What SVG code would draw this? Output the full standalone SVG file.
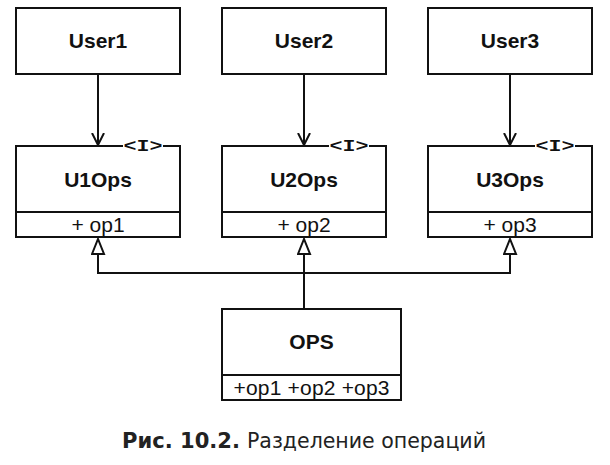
<svg xmlns="http://www.w3.org/2000/svg" width="610" height="465" viewBox="0 0 610 465">
<style>
.box{fill:#fff;stroke:#111;stroke-width:2}
.ln{fill:none;stroke:#111;stroke-width:2}
.name{font-family:"Liberation Sans",Arial,sans-serif;font-weight:bold;font-size:21px;fill:#111;text-anchor:middle}
.op{font-family:"Liberation Sans",Arial,sans-serif;font-size:21px;fill:#111;text-anchor:middle}
.st{font-family:"Liberation Mono","Courier New",monospace;font-weight:bold;font-size:16px;fill:#111;text-anchor:middle}
.cap{font-family:"DejaVu Sans",Tahoma,sans-serif;font-size:21.5px;fill:#222}
</style>
<defs>
<marker id="open" markerWidth="14" markerHeight="14" refX="12" refY="7" orient="auto" markerUnits="userSpaceOnUse">
<path d="M0,1 L12,7 L0,13" fill="none" stroke="#111" stroke-width="2"/>
</marker>
<marker id="tri" markerWidth="18" markerHeight="16" refX="16" refY="7" orient="auto" markerUnits="userSpaceOnUse">
<path d="M1,1 L16,7 L1,13 Z" fill="#fff" stroke="#111" stroke-width="2"/>
</marker>
</defs>

<g id="connectors">
<line class="ln" x1="98" y1="74" x2="98" y2="145" marker-end="url(#open)"/>
<line class="ln" x1="304" y1="74" x2="304" y2="145" marker-end="url(#open)"/>
<line class="ln" x1="510" y1="74" x2="510" y2="145" marker-end="url(#open)"/>
<path class="ln" d="M304,309 L304,273"/>
<path class="ln" d="M98,273 L510,273"/>
<line class="ln" x1="98" y1="274" x2="98" y2="239" marker-end="url(#tri)"/>
<line class="ln" x1="304" y1="274" x2="304" y2="239" marker-end="url(#tri)"/>
<line class="ln" x1="510" y1="274" x2="510" y2="239" marker-end="url(#tri)"/>
</g>

<g id="User1">
<rect class="box" x="16" y="8" width="164" height="66"/>
<text class="name" x="98" y="48">User1</text>
</g>
<g id="User2">
<rect class="box" x="222" y="8" width="164" height="66"/>
<text class="name" x="304" y="48">User2</text>
</g>
<g id="User3">
<rect class="box" x="428" y="8" width="164" height="66"/>
<text class="name" x="510" y="48">User3</text>
</g>

<g id="U1Ops">
<rect x="16" y="146" width="164" height="91" fill="#fff"/>
<path class="ln" d="M123,146 L16,146 L16,237 L180,237 L180,146 L163,146 M16,212 L180,212"/>
<text class="st" x="143" y="151" textLength="39" lengthAdjust="spacingAndGlyphs">&lt;I&gt;</text>
<text class="name" x="98" y="187">U1Ops</text>
<text class="op" x="98" y="232">+ op1</text>
</g>
<g id="U2Ops">
<rect x="222" y="146" width="164" height="91" fill="#fff"/>
<path class="ln" d="M329,146 L222,146 L222,237 L386,237 L386,146 L369,146 M222,212 L386,212"/>
<text class="st" x="349" y="151" textLength="39" lengthAdjust="spacingAndGlyphs">&lt;I&gt;</text>
<text class="name" x="304" y="187">U2Ops</text>
<text class="op" x="304" y="232">+ op2</text>
</g>
<g id="U3Ops">
<rect x="428" y="146" width="164" height="91" fill="#fff"/>
<path class="ln" d="M535,146 L428,146 L428,237 L592,237 L592,146 L575,146 M428,212 L592,212"/>
<text class="st" x="555" y="151" textLength="39" lengthAdjust="spacingAndGlyphs">&lt;I&gt;</text>
<text class="name" x="510" y="187">U3Ops</text>
<text class="op" x="510" y="232">+ op3</text>
</g>

<g id="OPS">
<rect class="box" x="222" y="309" width="179" height="91"/>
<line class="ln" x1="222" y1="375" x2="401" y2="375"/>
<text class="name" x="311.5" y="349">OPS</text>
<text class="op" x="311.5" y="395" textLength="156">+op1 +op2 +op3</text>
</g>

<g id="caption">
<text class="cap" x="122" y="448" font-weight="bold" textLength="118" lengthAdjust="spacingAndGlyphs">Рис. 10.2.</text>
<text class="cap" x="247" y="448" textLength="239" lengthAdjust="spacingAndGlyphs">Разделение операций</text>
</g>
</svg>
